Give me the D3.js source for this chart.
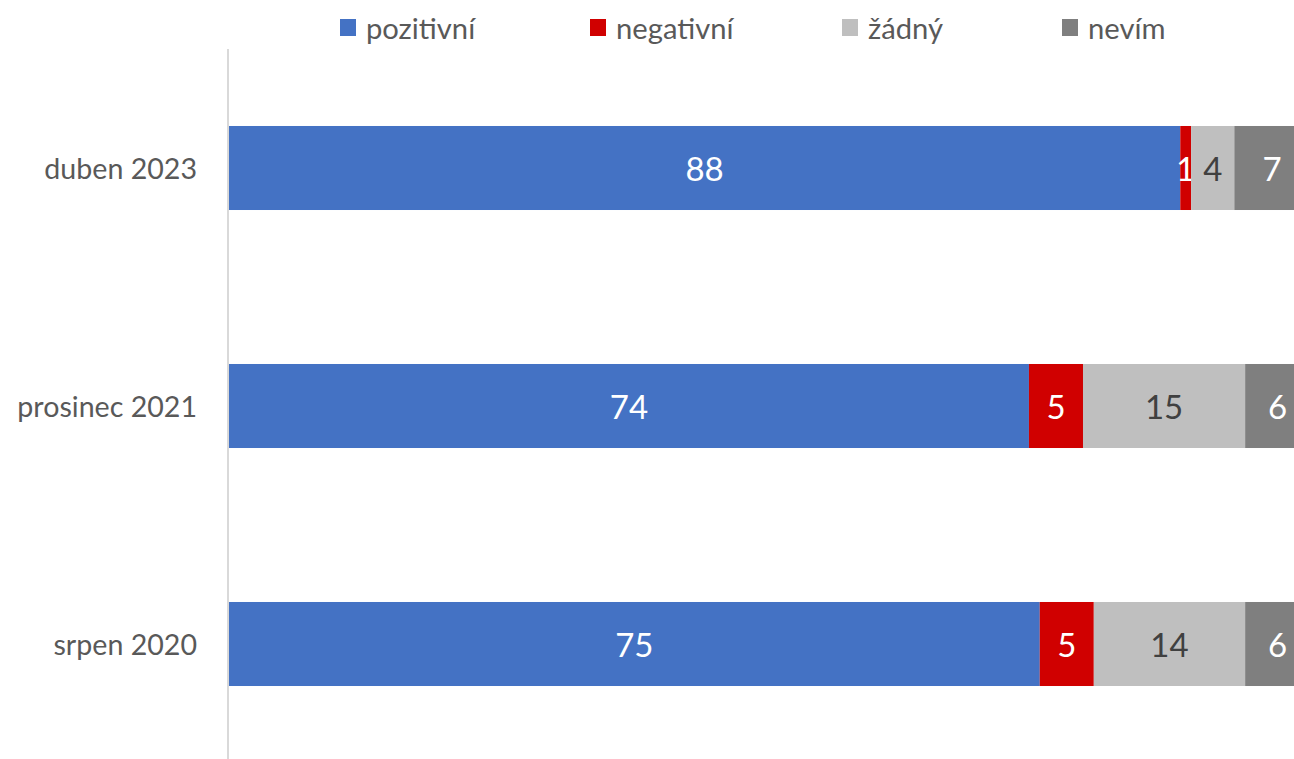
<!DOCTYPE html>
<html>
<head>
<meta charset="utf-8">
<script src="https://cdn.jsdelivr.net/npm/d3@7/dist/d3.min.js"></script>
<style>
  html, body { margin: 0; padding: 0; background: #fff; overflow: hidden; }
  svg { display: block; }
  text { font-family: Lato, "Open Sans", sans-serif; }
</style>
</head>
<body>
<svg id="chart" width="1294" height="759"></svg>
<script>
const categories = ["duben 2023", "prosinec 2021", "srpen 2020"];
const seriesNames = ["pozitivní", "negativní", "žádný", "nevím"];
const pozitivni = [88, 74, 75];
const negativni = [1, 5, 5];
const zadny = [4, 15, 14];
const nevim = [7, 6, 6];
const colors = ["#4472C4", "#D00000", "#BFBFBF", "#7F7F7F"];
const labelColors = ["#FFFFFF", "#FFFFFF", "#404040", "#FFFFFF"];

const seriesValues = [pozitivni, negativni, zadny, nevim];
const rows = categories.map((c, i) => {
  const r = { cat: c };
  seriesNames.forEach((s, j) => r[s] = seriesValues[j][i]);
  return r;
});

const svg = d3.select("#chart");
const x = d3.scaleLinear().domain([0, 100]).range([229, 1310]);
const y = d3.scaleBand().domain(categories).range([49, 763])
  .paddingInner(0.647).paddingOuter(0.3235);

const stack = d3.stack().keys(seriesNames);
const stacked = stack(rows);

// axis line
svg.append("line")
  .attr("x1", 228).attr("x2", 228)
  .attr("y1", 49).attr("y2", 759)
  .attr("stroke", "#D9D9D9").attr("stroke-width", 2);

const g = svg.append("g");
stacked.forEach((layer, j) => {
  const lg = g.append("g");
  lg.selectAll("rect").data(layer).join("rect")
    .attr("x", d => x(d[0]))
    .attr("width", d => x(d[1]) - x(d[0]))
    .attr("y", d => y(d.data.cat))
    .attr("height", y.bandwidth())
    .attr("fill", colors[j]);
  lg.selectAll("text").data(layer).join("text")
    .attr("x", d => (x(d[0]) + x(d[1])) / 2)
    .attr("y", d => y(d.data.cat) + y.bandwidth() / 2)
    .attr("text-anchor", "middle")
    .attr("dominant-baseline", "central")
    .attr("font-size", 33)
    .attr("fill", labelColors[j])
    .text(d => d[1] - d[0]);
});

// category labels
svg.append("g").selectAll("text").data(categories).join("text")
  .attr("x", 197)
  .attr("y", d => y(d) + y.bandwidth() / 2)
  .attr("text-anchor", "end")
  .attr("dominant-baseline", "central")
  .attr("font-size", 28.6)
  .attr("fill", "#595959")
  .text(d => d);

// legend
const legendX = [340, 590, 842, 1062];
const leg = svg.append("g");
seriesNames.forEach((s, j) => {
  leg.append("rect")
    .attr("x", legendX[j]).attr("y", 19)
    .attr("width", 16).attr("height", 17)
    .attr("fill", colors[j]);
  leg.append("text")
    .attr("x", legendX[j] + 26).attr("y", 27)
    .attr("dominant-baseline", "central")
    .attr("font-size", 29.2)
    .attr("fill", "#595959")
    .text(s);
});
</script>
</body>
</html>
